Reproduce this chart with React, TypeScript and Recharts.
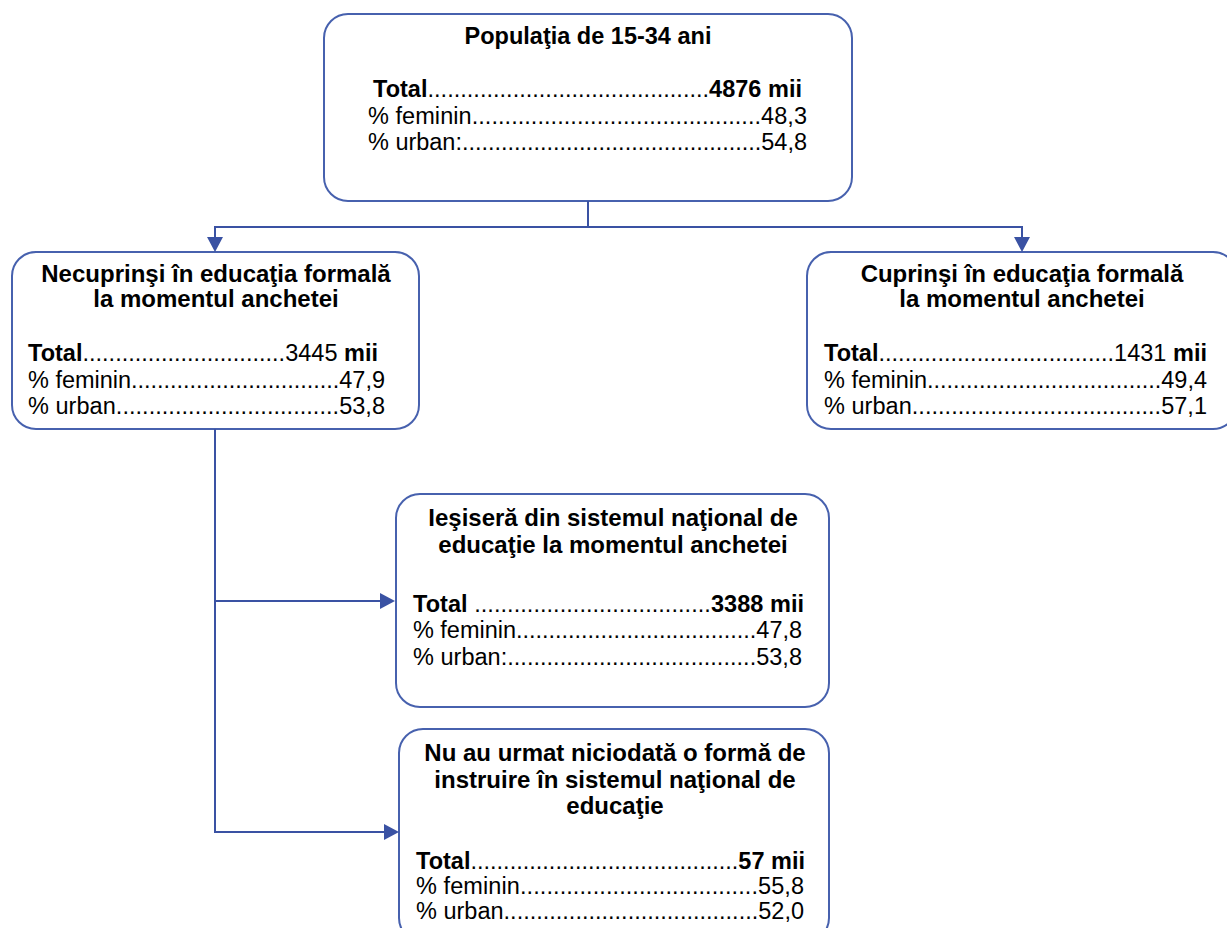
import { ScatterChart, Scatter, XAxis, YAxis, ReferenceArea, ReferenceLine } from "recharts";

const W = 1227;
const H = 928;

// --- content of the five nodes ---
const nodeTitles = [
  ["Populaţia de 15-34 ani"],
  ["Necuprinşi în educaţia formală", "la momentul anchetei"],
  ["Cuprinşi în educaţia formală", "la momentul anchetei"],
  ["Ieşiseră din sistemul naţional de", "educaţie la momentul anchetei"],
  ["Nu au urmat niciodată o formă de", "instruire în sistemul naţional de", "educaţie"],
];
const totalLabels = ["Total", "Total", "Total", "Total ", "Total"];
const totalsMii = ["4876", "3445", "1431", "3388", "57"];
const femininPct = ["48,3", "47,9", "49,4", "47,8", "55,8"];
const urbanLabels = ["% urban:", "% urban", "% urban", "% urban:", "% urban"];
const urbanPct = ["54,8", "53,8", "57,1", "53,8", "52,0"];
// whether the number itself is bold (unit "mii" is always bold)
const totalNumberBold = [true, false, false, true, true];

// --- layout (chart coordinates == pixels) ---
const boxLayout = [
  { x1: 324, x2: 852, y1: 14, y2: 201, cx: 588, titleSize: 23.5, titleY: [44], rows: [[373, 802], [368, 807], [368, 807]], rowY: [97, 124, 150], dots: [43, 44, 46] },
  { x1: 12, x2: 419, y1: 252, y2: 429, cx: 216, titleSize: 24, titleY: [282, 307], rows: [[28, 378], [28, 385], [28, 385]], rowY: [361, 388, 414], dots: [31, 32, 34] },
  { x1: 807, x2: 1237, y1: 252, y2: 429, cx: 1022, titleSize: 24, titleY: [282, 307], rows: [[824, 1207], [824, 1207], [824, 1207]], rowY: [361, 388, 414], dots: [36, 36, 38] },
  { x1: 396, x2: 829, y1: 494, y2: 707, cx: 613, titleSize: 24, titleY: [526, 553], rows: [[413, 804], [413, 802], [413, 802]], rowY: [612, 638, 665], dots: [36, 37, 38] },
  { x1: 399, x2: 829, y1: 729, y2: 942, cx: 615, titleSize: 24, titleY: [761, 788, 814], rows: [[416, 805], [416, 804], [416, 804]], rowY: [869, 894, 919], dots: [41, 36, 39] },
];

const connectors = [
  [588, 201, 588, 227],
  [214, 227, 1023, 227],
  [215, 227, 215, 240],
  [1022, 227, 1022, 240],
  [215, 429, 215, 833],
  [214, 601, 382, 601],
  [214, 832, 386, 832],
];

const arrows = [
  { x: 215, y: 252, dir: "down" },
  { x: 1022, y: 252, dir: "down" },
  { x: 395, y: 601, dir: "right" },
  { x: 399, y: 832, dir: "right" },
];

const LINE = "#3A52A3";
const BOX = "#4761AE";
const FONT = "'Liberation Sans', Arial, Helvetica, sans-serif";
const FS = 23.5;

const titleData = boxLayout.flatMap((b, i) =>
  nodeTitles[i].map((t, k) => ({ x: b.cx, y: b.titleY[k], text: t, size: b.titleSize }))
);

const rowData = boxLayout.flatMap((b, i) => {
  const dots = (n: number) => ".".repeat(n);
  const totalParts = [
    { t: totalLabels[i], b: true },
    { t: dots(b.dots[0]), b: false },
    { t: totalsMii[i] + " ", b: totalNumberBold[i] },
    { t: "mii", b: true },
  ];
  const femParts = [
    { t: "% feminin", b: false },
    { t: dots(b.dots[1]), b: false },
    { t: femininPct[i], b: false },
  ];
  const urbParts = [
    { t: urbanLabels[i], b: false },
    { t: dots(b.dots[2]), b: false },
    { t: urbanPct[i], b: false },
  ];
  return [totalParts, femParts, urbParts].map((parts, k) => ({
    x: b.rows[k][0],
    y: b.rowY[k],
    width: b.rows[k][1] - b.rows[k][0],
    parts,
  }));
});

const TitleShape = (p: any) => (
  <text
    x={p.cx}
    y={p.cy}
    textAnchor="middle"
    fontFamily={FONT}
    fontSize={p.payload.size}
    fontWeight={700}
    fill="#000"
  >
    {p.payload.text}
  </text>
);

const RowShape = (p: any) => (
  <text
    x={p.cx}
    y={p.cy}
    textLength={p.payload.width}
    lengthAdjust="spacing"
    fontFamily={FONT}
    fontSize={FS}
    fill="#000"
  >
    {p.payload.parts.map((pt: any, i: number) => (
      <tspan key={i} fontWeight={pt.b ? 700 : 400}>
        {pt.t}
      </tspan>
    ))}
  </text>
);

const ArrowShape = (p: any) => {
  const { cx, cy } = p;
  const pts =
    p.payload.dir === "down"
      ? `${cx - 8},${cy - 15} ${cx + 8},${cy - 15} ${cx},${cy}`
      : `${cx - 15},${cy - 8} ${cx - 15},${cy + 8} ${cx},${cy}`;
  return <polygon points={pts} fill={LINE} stroke="none" />;
};

const BoxShape = (p: any) => (
  <rect
    x={p.x}
    y={p.y}
    width={p.width}
    height={p.height}
    rx={24}
    ry={24}
    fill="none"
    stroke={BOX}
    strokeWidth={2}
  />
);

export default function App() {
  return (
    <div style={{ position: "absolute", left: 0, top: 0, width: W, height: H, background: "#fff" }}>
      <ScatterChart width={W} height={H} margin={{ top: 0, right: 0, bottom: 0, left: 0 }}>
        <XAxis type="number" dataKey="x" domain={[0, W]} hide allowDataOverflow />
        <YAxis type="number" dataKey="y" domain={[0, H]} reversed hide allowDataOverflow />
        {boxLayout.map((b, i) => (
          <ReferenceArea
            key={`box-${i}`}
            x1={b.x1}
            x2={b.x2}
            y1={b.y1}
            y2={b.y2}
            ifOverflow="visible"
            shape={BoxShape}
          />
        ))}
        {connectors.map((c, i) => (
          <ReferenceLine
            key={`ln-${i}`}
            segment={[
              { x: c[0], y: c[1] },
              { x: c[2], y: c[3] },
            ]}
            stroke={LINE}
            strokeWidth={2}
            ifOverflow="visible"
          />
        ))}
        <Scatter data={arrows} shape={ArrowShape} isAnimationActive={false} />
        <Scatter data={titleData} shape={TitleShape} isAnimationActive={false} />
        <Scatter data={rowData} shape={RowShape} isAnimationActive={false} />
      </ScatterChart>
    </div>
  );
}
